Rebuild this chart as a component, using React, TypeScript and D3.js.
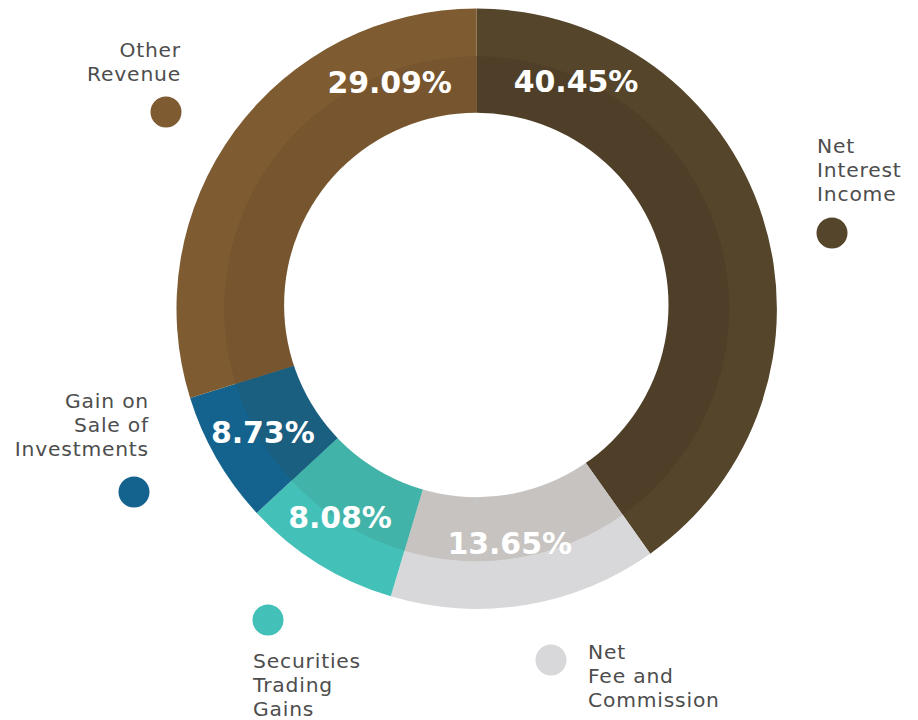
import React from "react";
import * as d3 from "d3";

const categories = [
  "Net Interest Income",
  "Net Fee and Commission",
  "Securities Trading Gains",
  "Gain on Sale of Investments",
  "Other Revenue",
];
// printed percentages (the labels)
const values = [40.45, 13.65, 8.08, 8.73, 29.09];
// shares of the ring as actually drawn in the picture (measured from slice boundaries)
const drawnShares = [40.19, 14.43, 8.47, 7.10, 29.81];
const legendLines = [
  ["Net", "Interest", "Income"],
  ["Net", "Fee and", "Commission"],
  ["Securities", "Trading", "Gains"],
  ["Gain on", "Sale of", "Investments"],
  ["Other", "Revenue"],
];

const outerColors = ["#55452b", "#d8d8da", "#43c0b8", "#14638e", "#7e5b31"];
const innerColors = ["#4f3f28", "#c6c3c1", "#42b3a8", "#1a5e80", "#76552f"];

// layout (not data)
const W = 918;
const H = 720;
const CX = 476.7;
const CY = 308.7;
const R_OUT = 300.2;
const R_BAND = 252.5;
const HOLE_CX = 476.3;
const HOLE_CY = 305;
const R_IN = 192.2;
const labelAngleDeg = [23.6, 172, 213.3, 240, -21];
const labelRadius = [248, 237, 249, 247, 243];
const legendLayout = [
  { dot: [832, 233], tx: 817, ty: 153, anchor: "start" },
  { dot: [551, 660], tx: 588, ty: 659, anchor: "start" },
  { dot: [268, 620], tx: 253, ty: 668, anchor: "start" },
  { dot: [134, 492], tx: 149, ty: 408, anchor: "end" },
  { dot: [166, 112], tx: 181, ty: 57, anchor: "end" },
];

export default function App() {
  const pie = d3
    .pie<number>()
    .sort(null)
    .value((d) => d)
    .startAngle(0)
    .endAngle(2 * Math.PI);
  const arcs = pie(drawnShares);
  const outerArc = d3.arc<d3.PieArcDatum<number>>().innerRadius(0).outerRadius(R_OUT);
  const bandArc = d3.arc<d3.PieArcDatum<number>>().innerRadius(0).outerRadius(R_BAND);
  const fmt = d3.format(".2f");
  const labelSize = 30;

  return (
    <svg
      width={W}
      height={H}
      style={{ position: "absolute", left: 0, top: 0, background: "#fff" }}
    >
      <g transform={`translate(${CX},${CY})`}>
        {arcs.map((a, i) => (
          <path key={"o" + i} d={outerArc(a) || ""} fill={outerColors[i]} />
        ))}
        {arcs.map((a, i) => (
          <path key={"b" + i} d={bandArc(a) || ""} fill={innerColors[i]} />
        ))}
      </g>
      <circle cx={HOLE_CX} cy={HOLE_CY} r={R_IN} fill="#ffffff" />
      <g transform={`translate(${CX},${CY})`}>
        {values.map((v, i) => {
          const ang = (labelAngleDeg[i] * Math.PI) / 180;
          const r = labelRadius[i];
          const x = r * Math.sin(ang);
          const y = -r * Math.cos(ang);
          return (
            <text
              key={"l" + i}
              x={x}
              y={y + labelSize * 0.36}
              textAnchor="middle"
              fill="#ffffff"
              fontFamily="'DejaVu Sans', sans-serif"
              fontWeight="bold"
              fontSize={labelSize}
              letterSpacing={-0.1}
            >
              {fmt(v) + "%"}
            </text>
          );
        })}
      </g>
      {categories.map((c, i) => {
        const L = legendLayout[i];
        return (
          <g key={"lg" + i}>
            <circle cx={L.dot[0]} cy={L.dot[1]} r={15.5} fill={outerColors[i]} />
            <text
              x={L.tx}
              y={L.ty}
              textAnchor={L.anchor as any}
              fill="#4d4d4d"
              fontFamily="'DejaVu Sans', sans-serif"
              fontSize={20.3}
              letterSpacing={0.8}
            >
              {legendLines[i].map((ln, j) => (
                <tspan key={j} x={L.tx} y={L.ty + j * 24}>
                  {ln}
                </tspan>
              ))}
            </text>
          </g>
        );
      })}
    </svg>
  );
}
